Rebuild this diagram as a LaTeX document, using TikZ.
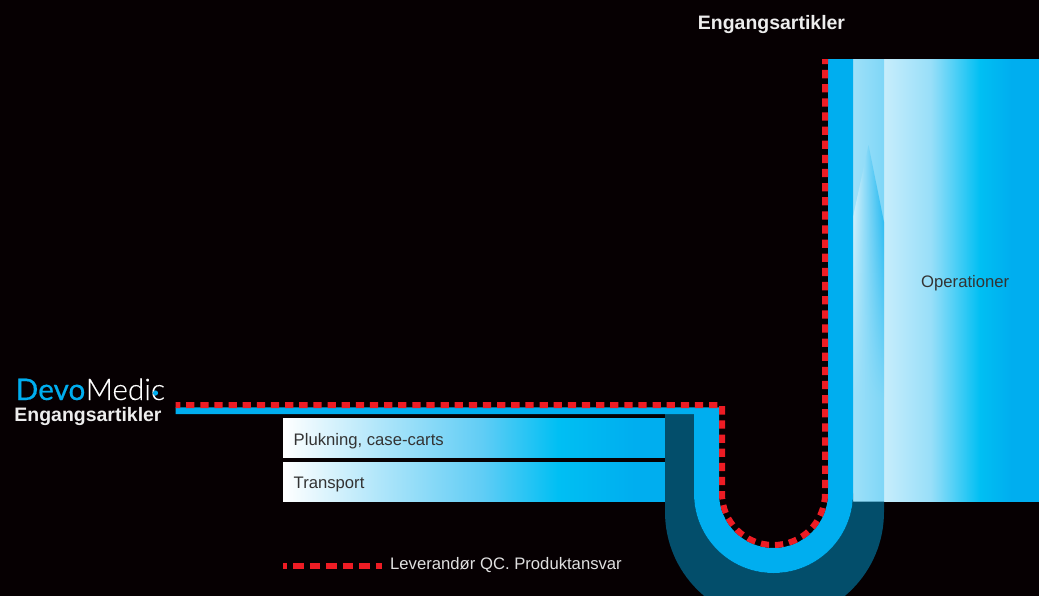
\documentclass[tikz,border=0pt]{standalone}
\usepackage{fontspec}
\setmainfont{Liberation Sans}
\newfontfamily\logofont[FakeBold=0.5]{Lato}
\newfontfamily\logolight[FakeBold=0.3]{Lato Light}
\usetikzlibrary{fadings}
\definecolor{bgblack}{HTML}{060002}
\definecolor{devoblue}{HTML}{00AEEF}
\definecolor{devocyan}{HTML}{00BFF3}
\definecolor{devodark}{HTML}{034E6B}
\definecolor{devored}{HTML}{ED1C24}
\pgfdeclarehorizontalshading{barfade}{100bp}{color(0bp)=(white); color(25bp)=(white);
  color(38bp)=(white!68!devoblue); color(51bp)=(white!38!devoblue); color(61bp)=(devocyan);
  color(71bp)=(devoblue); color(100bp)=(devoblue)}
\pgfdeclarehorizontalshading{opfade}{100bp}{color(0bp)=(white!78!devoblue); color(25bp)=(white!78!devoblue);
  color(40bp)=(white!60!devoblue); color(56bp)=(devocyan);
  color(66bp)=(devoblue); color(100bp)=(devoblue)}
\pgfdeclarehorizontalshading{bandfade}{100bp}{color(0bp)=(white!62!devoblue); color(25bp)=(white!62!devoblue);
  color(75bp)=(white!50!devoblue); color(100bp)=(white!50!devoblue)}
\pgfdeclarehorizontalshading{spikefade}{100bp}{color(0bp)=(white!88!devoblue); color(25bp)=(white!88!devoblue);
  color(75bp)=(white!5!devoblue); color(100bp)=(white!5!devoblue)}
\tikzfading[name=spikeout, top color=transparent!0, middle color=transparent!0, bottom color=transparent!100]
\tikzset{bar/.style = {anchor=west, font=\fontsize{12.5pt}{15pt}\selectfont, text=black!80},
           title/.style = {font=\bfseries\fontsize{14.6pt}{17pt}\selectfont, text=white!93!black},
           redline/.style = {draw=devored, line width=4.5pt, dash pattern=on 6.2pt off 4.4pt}}

\begin{document}
\begin{tikzpicture}[x=0.75pt, y=-0.75pt]
    \useasboundingbox (0,0) rectangle (1039,596);
    \clip (0,0) rectangle (1039,596);
    \fill[bgblack] (0,0) rectangle (1039,596);
    % gradient blocks
    \path[shading=barfade] (283,418) rectangle (665,457.7);
    \path[shading=barfade] (283,462) rectangle (665,501.7);
    \path[shading=opfade] (884,59) rectangle (1039,501.7);
    \path[shading=bandfade] (853,59) rectangle (884,501.7);
    \path[shading=spikefade, path fading=spikeout] (868.5,145) -- (884,222) -- (884,400) -- (853,400) -- (853,217) -- cycle;
    % dark and blue pipe
    \fill[devodark] (665,414) -- (665,512) arc[start angle=180, end angle=0, radius=109.5] -- (884,501.7) -- (853,501.7)
      -- (853,493.5) arc[start angle=0, end angle=180, radius=79.5] -- (694,414) -- cycle;
    \fill[devoblue] (175.5,407.3) -- (719,407.3) -- (719,493.5) arc[start angle=180, end angle=0, radius=54.5] -- (828,59)
      -- (853,59) -- (853,493.5) arc[start angle=0, end angle=180, radius=79.5] -- (694,414) -- (175.5,414) -- cycle;
    % supplier line
    \draw[redline, dash phase=2.6pt] (175.5,405) -- (722,405) -- (722,493.5) arc[start angle=180, end angle=0, radius=51.5] -- (825,59);
    \coordinate (legs) at (283,566.2);
    \coordinate (lege) at (382,566.2);
    \draw[draw=devored, line width=4.1pt, dash pattern=on 8pt off 4.4pt, dash phase=4.8pt] (legs) -- (lege);
    % texts
    \node[bar] (pluk) at (289,441.5) {Plukning, case-carts};
    \node[bar] (trans) at (289,484.5) {Transport};
    \node[bar] (oper) at (916.5,283) {Operationer};
    \node[bar, text=white!88!black] (lev) at (385.5,565.5) {Leverandør QC. Produktansvar};
    \node[title] (engtop) at (771.5,24.5) {Engangsartikler};
    \node[title] (englogo) at (88,416.5) {Engangsartikler};
    \node[anchor=base west, inner sep=0pt, text=devoblue, font=\logofont\fontsize{22.3pt}{25pt}\selectfont] (devo) at (15.5,400) {Devo};
    \node[anchor=base west, inner sep=0pt, text=white, font=\logolight\fontsize{22.3pt}{25pt}\selectfont] (medic) at (devo.base east) {Medic};
    \fill[devoblue] (155.5,393) circle (2.6);
\end{tikzpicture}
\end{document}
